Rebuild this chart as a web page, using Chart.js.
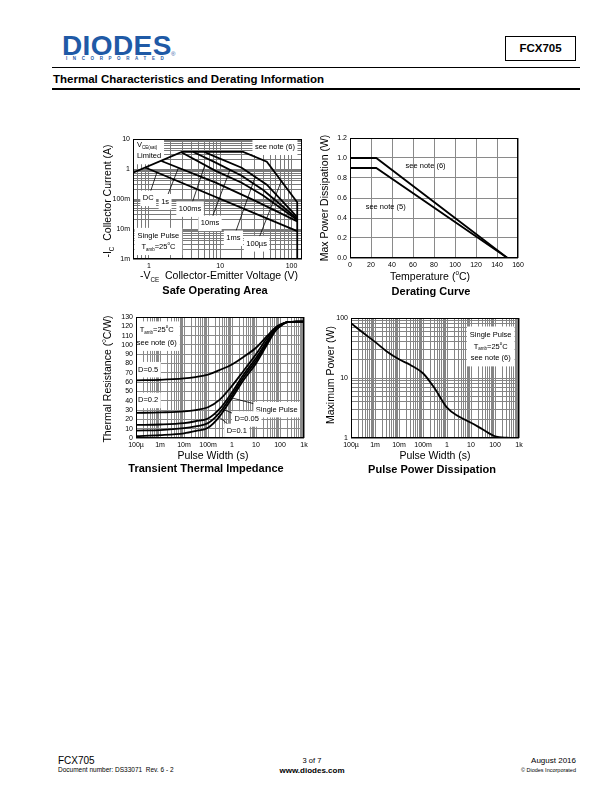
<!DOCTYPE html>
<html>
<head>
<meta charset="utf-8">
<title>FCX705 thermal characteristics</title>
<script src="https://cdn.jsdelivr.net/npm/chart.js@4.4.1/dist/chart.umd.min.js"></script>
<style>
  body { margin: 0; width: 612px; height: 792px; position: relative; overflow: hidden; background: #fff;
         font-family: "Liberation Sans", Arial, sans-serif; color: #000; }
  .a { position: absolute; white-space: nowrap; line-height: 1; }
  .c { position: absolute; white-space: nowrap; line-height: 1; transform: translate(-50%, -50%); }
  .rot { transform: translate(-50%, -50%) rotate(-90deg); }
  .ax { font-size: 10.5px; }
  .ttl { font-size: 11px; font-weight: bold; }
  sub, sup { font-size: 60%; line-height: 0; }
  canvas { position: absolute; }
</style>
</head>
<body>

<!-- header -->
<div class="a" style="left:62px;top:32px;font-size:28px;font-weight:bold;color:#1f5aa6;letter-spacing:0.4px">DIODES</div>
<div class="a" style="left:171px;top:51px;font-size:6px;color:#1f5aa6">®</div>
<div class="a" style="left:66px;top:57px;font-size:4.5px;font-weight:bold;color:#1f5aa6;letter-spacing:5.6px">INCORPORATED</div>
<div class="a" style="left:505px;top:36px;width:71px;height:25px;box-sizing:border-box;border:1px solid #000;text-align:center;line-height:23px;font-size:11.5px;font-weight:bold">FCX705</div>
<div class="a" style="left:52px;top:67px;width:528px;height:1px;background:#000"></div>
<div class="a" style="left:53px;top:74px;font-size:11.5px;font-weight:bold">Thermal Characteristics and Derating Information</div>
<div class="a" style="left:52px;top:88px;width:528px;height:2px;background:#000"></div>

<canvas id="soa"></canvas>
<canvas id="der"></canvas>
<canvas id="tti"></canvas>
<canvas id="ppd"></canvas>

<!-- axis titles -->
<div class="c rot ax" style="left:107px;top:201px">-I<sub>C</sub>&nbsp; Collector Current (A)</div>
<div class="c ax" style="left:219px;top:275px">-V<sub>CE</sub>&nbsp; Collector-Emitter Voltage (V)</div>
<div class="c ttl" style="left:215px;top:290px">Safe Operating Area</div>

<div class="c rot ax" style="left:324px;top:198px">Max Power Dissipation (W)</div>
<div class="c ax" style="left:430px;top:276px">Temperature (<sup>o</sup>C)</div>
<div class="c ttl" style="left:431px;top:291px">Derating Curve</div>

<div class="c rot ax" style="left:107px;top:379px">Thermal Resistance (<sup>o</sup>C/W)</div>
<div class="c ax" style="left:213px;top:455px">Pulse Width (s)</div>
<div class="c ttl" style="left:206px;top:468px">Transient Thermal Impedance</div>

<div class="c rot ax" style="left:330px;top:375px">Maximum Power (W)</div>
<div class="c ax" style="left:435px;top:455px">Pulse Width (s)</div>
<div class="c ttl" style="left:432px;top:469px">Pulse Power Dissipation</div>

<!-- footer -->
<div class="a" style="left:58px;top:756px;font-size:10px">FCX705</div>
<div class="a" style="left:58px;top:767px;font-size:6.5px">Document number: DS33071&nbsp; Rev. 6 - 2</div>
<div class="c" style="left:312px;top:761px;font-size:7.5px">3 of 7</div>
<div class="c" style="left:312px;top:771px;font-size:8px;font-weight:bold">www.diodes.com</div>
<div class="a" style="right:36px;top:757px;font-size:8px">August 2016</div>
<div class="a" style="right:36px;top:768px;font-size:5.5px">© Diodes Incorporated</div>

<script>
// ---- Safe operating area: -VCE (V) against -IC (A), single pulse, Tamb 25C ----
var soaVce100us = [0.6, 2.9, 21, 45, 120, 120];
var soaIc100us  = [0.75, 3.7, 3.7, 1.75, 0.078, 0.001];
var soaVce1ms   = [6, 8.5, 20, 45, 120];
var soaIc1ms    = [3.7, 2.6, 1.1, 0.3, 0.025];
var soaVce10ms  = [4.2, 8.5, 20, 40, 120];
var soaIc10ms   = [3.7, 1.66, 0.6, 0.2, 0.022];
var soaVce100ms = [2.85, 8.5, 20, 40, 120];
var soaIc100ms  = [3.6, 0.88, 0.35, 0.13, 0.02];
var soaVce1s    = [1.5, 8.5, 30, 120];
var soaIc1s     = [1.85, 0.36, 0.09, 0.018];
var soaVceDC    = [0.89, 120];
var soaIcDC     = [1.12, 0.0085];
var soaVTicks  = [1, 10, 100];
var soaVLabels = ['1', '10', '100'];
var soaITicks  = [0.001, 0.01, 0.1, 1, 10];
var soaILabels = ['1m', '10m', '100m', '1', '10'];

// ---- Derating curve: temperature (C) against max power (W) ----
var derTemp   = [0, 25, 150];
var derPower6 = [1.0, 1.0, 0];   // see note (6)
var derPower5 = [0.9, 0.9, 0];   // see note (5)
var derTTicks  = [0, 20, 40, 60, 80, 100, 120, 140, 160];
var derTLabels = ['0', '20', '40', '60', '80', '100', '120', '140', '160'];
var derPTicks  = [0, 0.2, 0.4, 0.6, 0.8, 1.0, 1.2];
var derPLabels = ['0.0', '0.2', '0.4', '0.6', '0.8', '1.0', '1.2'];

// ---- Transient thermal impedance: pulse width (s) against Rth (C/W) ----
var ttiWidth  = [1e-4, 1e-3, 1e-2, 0.03, 0.1, 0.3, 1, 3, 10, 30, 60, 100, 200, 500, 1000];
var ttiD05    = [62, 62.5, 64, 65.5, 68, 73, 79, 87, 97, 110, 118, 122, 124.5, 125, 125];
var ttiD02    = [27, 27.5, 28.5, 30, 33, 41, 56, 72, 90, 108, 117, 121, 124.5, 125, 125];
var ttiD01    = [14, 14.5, 16, 18, 21, 31, 49, 68, 86, 105, 116, 120.5, 124.5, 125, 125];
var ttiD005   = [8, 8.5, 10.5, 12.5, 16, 27, 46, 65, 83, 103, 115, 120, 124.5, 125, 125];
var ttiSingle = [2, 3, 5, 7.5, 11, 23, 43, 62, 80, 101, 114, 120, 124.5, 125, 125];
var pwTicks  = [1e-4, 1e-3, 1e-2, 0.1, 1, 10, 100, 1000];
var pwLabels = ['100\u00b5', '1m', '10m', '100m', '1', '10', '100', '1k'];
var rthTicks  = [0, 10, 20, 30, 40, 50, 60, 70, 80, 90, 100, 110, 120, 130];
var rthLabels = ['0', '10', '20', '30', '40', '50', '60', '70', '80', '90', '100', '110', '120', '130'];

// ---- Pulse power dissipation: pulse width (s) against max power (W) ----
var ppdWidth = [1e-4, 3e-4, 1e-3, 3e-3, 1e-2, 3e-2, 0.1, 0.3, 1, 3, 10, 30, 100, 300, 1000];
var ppdPower = [82, 58, 40, 28, 20.5, 16.5, 12, 6.8, 3.2, 2.3, 1.8, 1.4, 1.07, 1.01, 1.0];
var ppdTicks  = [1, 10, 100];
var ppdLabels = ['1', '10', '100'];

var FONT = '"Liberation Sans", Arial, sans-serif';
Chart.defaults.font.family = FONT;
Chart.defaults.color = '#000';

function pts(xs, ys) { return xs.map(function (x, i) { return { x: x, y: ys[i] }; }); }

// grid positions 1..9 x 10^n between lo and hi
function logGrid(lo, hi) {
  var out = [];
  for (var e = Math.floor(Math.log10(lo)); e <= Math.ceil(Math.log10(hi)); e++) {
    for (var m = 1; m <= 9; m++) {
      var v = parseFloat((m * Math.pow(10, e)).toPrecision(4));
      if (v >= lo * 0.9999 && v <= hi * 1.0001) out.push(v);
    }
  }
  return out;
}

function axis(pos, type, min, max, gridVals, tickVals, tickLabels, gridColor) {
  return {
    type: type, position: pos, min: min, max: max,
    grid: { color: gridColor, lineWidth: 1, drawTicks: false },
    border: { display: false },
    ticks: {
      autoSkip: false, maxRotation: 0, padding: 3, font: { size: 7 },
      callback: function (v) {
        for (var i = 0; i < tickVals.length; i++)
          if (Math.abs(tickVals[i] - v) <= Math.abs(tickVals[i]) * 1e-6 + 1e-9) return tickLabels[i];
        return '';
      }
    },
    afterBuildTicks: function (s) { s.ticks = gridVals.map(function (v) { return { value: v }; }); },
    afterFit: function (s) { if (pos === 'left') s.width = 40; else s.height = 15; }
  };
}

function line(xs, ys, smooth) {
  return { data: pts(xs, ys), showLine: true, borderColor: '#000', borderWidth: 1.8,
           pointRadius: 0, fill: false, tension: 0,
           cubicInterpolationMode: smooth ? 'monotone' : 'default' };
}

// text pieces: '_x' is subscript, '^x' superscript
function segFont(s, size) { return ((s[0] === '_' || s[0] === '^') ? size * 0.6 : size) + 'px ' + FONT; }
function segText(s) { return (s[0] === '_' || s[0] === '^') ? s.slice(1) : s; }
function richWidth(ctx, segs, size) {
  var w = 0;
  segs.forEach(function (s) { ctx.font = segFont(s, size); w += ctx.measureText(segText(s)).width; });
  return w;
}
function drawRich(ctx, segs, x, y, size) {
  ctx.textBaseline = 'middle'; ctx.textAlign = 'left';
  segs.forEach(function (s) {
    ctx.font = segFont(s, size);
    var dy = s[0] === '_' ? size * 0.35 : s[0] === '^' ? -size * 0.35 : 0;
    ctx.fillText(segText(s), x, y + dy);
    x += ctx.measureText(segText(s)).width;
  });
}

function notesPlugin(notes, pointers) {
  return {
    id: 'notes',
    beforeDatasetsDraw: function (chart) {
      var ctx = chart.ctx, sx = chart.scales.x, sy = chart.scales.y, a = chart.chartArea;
      ctx.save();
      ctx.beginPath(); ctx.rect(a.left, a.top, a.right - a.left, a.bottom - a.top); ctx.clip();
      ctx.strokeStyle = '#000'; ctx.lineWidth = 0.8;
      pointers.forEach(function (p) {
        ctx.beginPath();
        ctx.moveTo(sx.getPixelForValue(p[0]), sy.getPixelForValue(p[1]));
        ctx.lineTo(sx.getPixelForValue(p[2]), sy.getPixelForValue(p[3]));
        ctx.stroke();
      });
      notes.forEach(function (n) {
        var size = n.size || 7.5, lh = n.lh || size * 1.4, pad = n.pad || 2.5;
        var px = sx.getPixelForValue(n.x), py = sy.getPixelForValue(n.y);
        var widths = n.lines.map(function (l) { return richWidth(ctx, l, size); });
        var maxW = Math.max.apply(null, widths);
        if (n.box) {
          var left = (n.align === 'left' ? px : px - maxW / 2) - pad;
          ctx.fillStyle = '#fff';
          ctx.fillRect(left, py - size * 0.7 - pad, maxW + 2 * pad, (n.lines.length - 1) * lh + size * 1.4 + 2 * pad);
        }
        ctx.fillStyle = '#000';
        n.lines.forEach(function (l, i) {
          var x0 = n.align === 'left' ? px : px - widths[i] / 2;
          drawRich(ctx, l, x0, py + i * lh, size);
        });
      });
      ctx.restore();
    },
    afterDatasetsDraw: function (chart) {
      var ctx = chart.ctx, a = chart.chartArea;
      ctx.save(); ctx.strokeStyle = '#000'; ctx.lineWidth = 1;
      ctx.strokeRect(Math.round(a.left) + 0.5, Math.round(a.top) + 0.5,
                     Math.round(a.right - a.left) - 1, Math.round(a.bottom - a.top) - 1);
      ctx.restore();
    }
  };
}

// box = plot area on the page: [left, top, right, bottom]
function build(id, box, datasets, xScale, yScale, plugin) {
  var cv = document.getElementById(id);
  cv.width = box[2] - box[0] + 50;
  cv.height = box[3] - box[1] + 25;
  cv.style.left = (box[0] - 40) + 'px';
  cv.style.top = (box[1] - 10) + 'px';
  return new Chart(cv, {
    type: 'scatter',
    data: { datasets: datasets },
    options: {
      responsive: false, animation: false,
      layout: { padding: { left: 0, top: 10, right: 10, bottom: 0 } },
      plugins: { legend: { display: false }, tooltip: { enabled: false } },
      scales: { x: xScale, y: yScale }
    },
    plugins: [plugin]
  });
}

// ---------- Safe Operating Area ----------
var soaNotes = [
  { x: 0.68, y: 6.3, align: 'left', box: true, pad: 3, lh: 11, lines: [['V', '_CE(sat)'], ['Limited']] },
  { x: 58.5, y: 5.3, box: true, lines: [['see note (6)']] },
  { x: 0.98, y: 0.105, box: true, lines: [['DC']] },
  { x: 1.69, y: 0.081, box: true, lines: [['1s']] },
  { x: 3.78, y: 0.046, box: true, lines: [['100ms']] },
  { x: 7.2, y: 0.0155, box: true, lines: [['10ms']] },
  { x: 15.3, y: 0.0049, box: true, lines: [['1ms']] },
  { x: 32.4, y: 0.0032, box: true, lines: [['100\u00b5s']] },
  { x: 1.36, y: 0.0058, box: true, pad: 3, lh: 10.7, lines: [['Single Pulse'], ['T', '_amb', '=25', '^o', 'C']] }
];
var soaPointers = [
  [0.98, 0.105, 1.3, 0.78], [1.69, 0.081, 2.6, 1.1], [3.78, 0.046, 6.1, 1.35],
  [7.2, 0.0155, 13.7, 0.94], [15.3, 0.0049, 31, 0.55], [32.4, 0.0032, 72, 0.4]
];
build('soa', [133, 139, 302, 259], [
    line(soaVce100us, soaIc100us), line(soaVce1ms, soaIc1ms), line(soaVce10ms, soaIc10ms),
    line(soaVce100ms, soaIc100ms), line(soaVce1s, soaIc1s), line(soaVceDC, soaIcDC)
  ],
  axis('bottom', 'logarithmic', 0.6, 140, logGrid(0.6, 140), soaVTicks, soaVLabels, '#7a7a7a'),
  axis('left', 'logarithmic', 0.001, 10, logGrid(0.001, 10), soaITicks, soaILabels, '#7a7a7a'),
  notesPlugin(soaNotes, soaPointers));

// ---------- Derating Curve ----------
var derNotes = [
  { x: 72, y: 0.925, lines: [['see note (6)']] },
  { x: 34, y: 0.515, lines: [['see note (5)']] }
];
build('der', [350, 138, 518, 258], [line(derTemp, derPower6), line(derTemp, derPower5)],
  axis('bottom', 'linear', 0, 160, derTTicks, derTTicks, derTLabels, '#8a8a8a'),
  axis('left', 'linear', 0, 1.2, derPTicks, derPTicks, derPLabels, '#8a8a8a'),
  notesPlugin(derNotes, []));

// ---------- Transient Thermal Impedance ----------
var ttiNotes = [
  { x: 7.3e-4, y: 116.4, box: true, pad: 3, lh: 13, lines: [['T', '_amb', '=25', '^o', 'C'], ['see note (6)']] },
  { x: 3.2e-4, y: 73.4, box: true, lines: [['D=0.5']] },
  { x: 3.2e-4, y: 40.4, box: true, lines: [['D=0.2']] },
  { x: 72.9, y: 30.4, box: true, lines: [['Single Pulse']] },
  { x: 4.1, y: 20.4, box: true, lines: [['D=0.05']] },
  { x: 1.58, y: 7.1, box: true, lines: [['D=0.1']] }
];
var ttiPointers = [[72.9, 30.4, 1, 43], [4.1, 20.4, 0.4, 31], [1.58, 7.1, 0.2, 26]];
build('tti', [136, 317, 304, 438], [
    line(ttiWidth, ttiD05, true), line(ttiWidth, ttiD02, true), line(ttiWidth, ttiD01, true),
    line(ttiWidth, ttiD005, true), line(ttiWidth, ttiSingle, true)
  ],
  axis('bottom', 'logarithmic', 1e-4, 1000, logGrid(1e-4, 1000), pwTicks, pwLabels, '#8a8a8a'),
  axis('left', 'linear', 0, 130, rthTicks, rthTicks, rthLabels, '#8a8a8a'),
  notesPlugin(ttiNotes, ttiPointers));

// ---------- Pulse Power Dissipation ----------
var ppdNotes = [
  { x: 66, y: 52.6, box: true, pad: 3, lh: 11.7, lines: [['Single Pulse'], ['T', '_amb', '=25', '^o', 'C'], ['see note (6)']] }
];
build('ppd', [351, 318, 519, 438], [line(ppdWidth, ppdPower, true)],
  axis('bottom', 'logarithmic', 1e-4, 1000, logGrid(1e-4, 1000), pwTicks, pwLabels, '#858585'),
  axis('left', 'logarithmic', 1, 100, logGrid(1, 100), ppdTicks, ppdLabels, '#858585'),
  notesPlugin(ppdNotes, []));
</script>
</body>
</html>
